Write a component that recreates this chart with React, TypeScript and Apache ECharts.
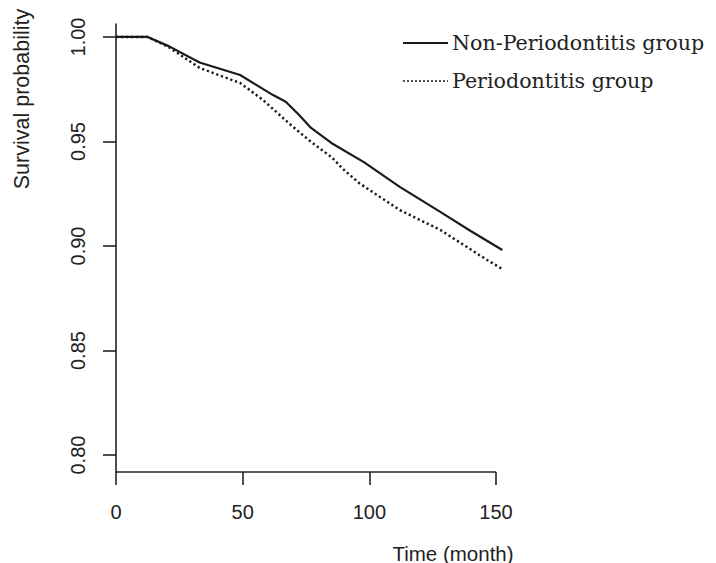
import React, { useEffect, useRef } from "react";
import * as echarts from "echarts";

// Kaplan–Meier style survival estimates
const nonPerioTime = [0, 12.5, 21, 33, 49, 62, 67, 72, 77, 85, 98, 112, 128, 140, 152.5];
const nonPerioSurv = [1.0, 1.0, 0.9955, 0.9878, 0.9818, 0.9722, 0.969, 0.963, 0.9565, 0.9493, 0.94, 0.9283, 0.9163, 0.9072, 0.8981];

const perioTime = [0, 12.5, 21, 33, 49, 58, 69, 77, 85, 90, 96, 112, 128, 146.5, 152.5];
const perioSurv = [1.0, 1.0, 0.995, 0.9852, 0.978, 0.9699, 0.9579, 0.9498, 0.9426, 0.9364, 0.9301, 0.9172, 0.9077, 0.8933, 0.889];

const xTicks = [0, 50, 100, 150];
const yTicks = [0.8, 0.85, 0.9, 0.95, 1.0];

const seriesNames = ["Non-Periodontitis group", "Periodontitis group"];
const xTitle = "Time (month)";
const yTitle = "Survival probability";

const X_MAX = 152.6;
const Y_MIN = 0.7919;
const Y_MAX = 1.0062;

export default function App() {
  const ref = useRef<HTMLDivElement>(null);
  useEffect(() => {
    if (!ref.current) return;
    const chart = echarts.init(ref.current, null, { renderer: "svg" });
    const axisColor = "#222";
    const sans = "'Liberation Sans', Arial, sans-serif";
    const serif = "'DejaVu Serif', serif";
    const gridLeft = 116;
    const gridTop = 24;
    const gridHeight = 448;
    const pxPerUnit = 380 / 150;
    const gridWidth = X_MAX * pxPerUnit;
    chart.setOption({
      animation: false,
      backgroundColor: "#fff",
      grid: { left: gridLeft, top: gridTop, width: gridWidth, height: gridHeight },
      xAxis: {
        type: "value",
        min: 0,
        max: X_MAX,
        splitLine: { show: false },
        axisLine: { show: false },
        axisTick: {
          show: true,
          length: 13,
          inside: false,
          customValues: xTicks,
          lineStyle: { color: axisColor, width: 1.6 },
        },
        axisLabel: {
          customValues: xTicks,
          color: "#222",
          fontFamily: sans,
          fontSize: 20,
          margin: 30,
          formatter: (v: number) => String(v),
        },
      },
      yAxis: {
        type: "value",
        min: Y_MIN,
        max: Y_MAX,
        splitLine: { show: false },
        axisLine: { show: true, onZero: false, lineStyle: { color: axisColor, width: 1.6 } },
        axisTick: {
          show: true,
          length: 13,
          inside: false,
          customValues: yTicks,
          lineStyle: { color: axisColor, width: 1.6 },
        },
        axisLabel: {
          customValues: yTicks,
          color: "#222",
          fontFamily: sans,
          fontSize: 20,
          rotate: 90,
          margin: 28,
          formatter: (v: number) => v.toFixed(2),
        },
      },
      series: [
        {
          name: seriesNames[0],
          type: "line",
          showSymbol: false,
          symbol: "none",
          data: nonPerioTime.map((t, i) => [t, nonPerioSurv[i]]),
          lineStyle: { color: "#1a1a1a", width: 2.2 },
        },
        {
          name: seriesNames[1],
          type: "line",
          showSymbol: false,
          symbol: "none",
          data: perioTime.map((t, i) => [t, perioSurv[i]]),
          lineStyle: { color: "#1a1a1a", width: 2.5, type: [2.2, 2.8] },
        },
      ],
      graphic: [
        {
          type: "line",
          shape: {
            x1: gridLeft,
            y1: gridTop + gridHeight,
            x2: gridLeft + 150 * pxPerUnit,
            y2: gridTop + gridHeight,
          },
          style: { stroke: axisColor, lineWidth: 1.6 },
        },
        {
          type: "text",
          x: 22,
          y: 99,
          rotation: Math.PI / 2,
          style: {
            text: yTitle,
            fill: "#222",
            font: `21.5px ${sans}`,
            textAlign: "center",
            textVerticalAlign: "middle",
          },
        },
        {
          type: "text",
          x: 453,
          y: 553,
          style: {
            text: xTitle,
            fill: "#222",
            font: `20.5px ${sans}`,
            textAlign: "center",
            textVerticalAlign: "middle",
          },
        },
        {
          type: "line",
          shape: { x1: 403, y1: 43, x2: 448, y2: 43 },
          style: { stroke: "#1a1a1a", lineWidth: 2 },
        },
        {
          type: "line",
          shape: { x1: 403, y1: 81, x2: 448, y2: 81 },
          style: { stroke: "#1a1a1a", lineWidth: 1.6, lineDash: [2, 2] },
        },
        {
          type: "text",
          x: 452,
          y: 43,
          style: {
            text: seriesNames[0],
            fill: "#222",
            font: `20.6px ${serif}`,
            textAlign: "left",
            textVerticalAlign: "middle",
          },
        },
        {
          type: "text",
          x: 452,
          y: 81,
          style: {
            text: seriesNames[1],
            fill: "#222",
            font: `20.6px ${serif}`,
            textAlign: "left",
            textVerticalAlign: "middle",
          },
        },
      ],
    });
    return () => chart.dispose();
  }, []);
  return (
    <div
      ref={ref}
      style={{ position: "fixed", left: 0, top: 0, width: 716, height: 563 }}
    />
  );
}
